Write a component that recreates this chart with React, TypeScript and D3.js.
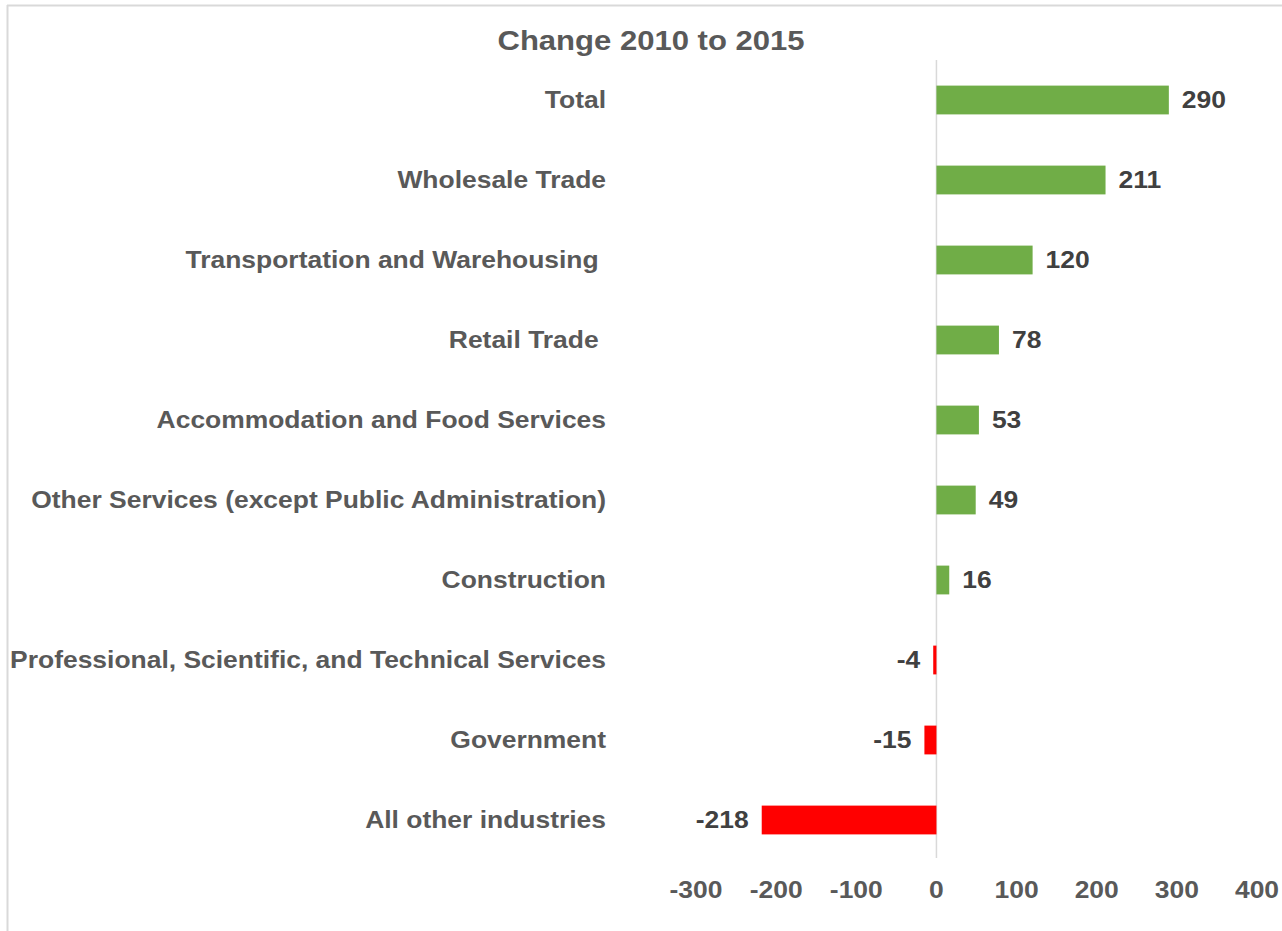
import React from "react";
import * as d3 from "d3";

const categories = [
  "Total",
  "Wholesale Trade",
  "Transportation and Warehousing ",
  "Retail Trade ",
  "Accommodation and Food Services",
  "Other Services (except Public Administration)",
  "Construction",
  "Professional, Scientific, and Technical Services",
  "Government",
  "All other industries",
];
const values = [290, 211, 120, 78, 53, 49, 16, -4, -15, -218];
const tickValues = [-300, -200, -100, 0, 100, 200, 300, 400];
const title = "Change 2010 to 2015";

const W = 1282;
const H = 931;
const FONT = "'Liberation Sans', Arial, sans-serif";
const TEXT = "#595959";
const SX = 1.15;

function T({ x, y, anchor, size, fill, children }: any) {
  return (
    <text
      transform={`translate(${x},${y}) scale(${SX},1)`}
      dy="0.35em"
      textAnchor={anchor}
      fontSize={size}
      fontWeight="bold"
      fill={fill}
      style={{ whiteSpace: "pre" }}
    >
      {children}
    </text>
  );
}

export default function App() {
  const x = d3.scaleLinear().domain([-300, 400]).range([696, 1257]);
  const y = d3.scaleBand<string>().domain(categories).range([60, 860]).paddingInner(0.64).paddingOuter(0.32);
  const bh = y.bandwidth();

  return (
    <svg width={W} height={H} style={{ position: "absolute", left: 0, top: 0, background: "#fff" }} fontFamily={FONT}>
      <rect x={0} y={0} width={W} height={H} fill="#fff" />
      <line x1={7} y1={5.5} x2={W + 5} y2={5.5} stroke="#d9d9d9" strokeWidth={2} />
      <line x1={7.5} y1={5} x2={7.5} y2={H + 5} stroke="#d9d9d9" strokeWidth={2} />

      <T x={651} y={41} anchor="middle" size={27} fill={TEXT}>
        {title}
      </T>

      <line x1={x(0)} x2={x(0)} y1={60} y2={858} stroke="#d9d9d9" strokeWidth={1.5} />

      {categories.map((c, i) => {
        const v = values[i];
        const yc = (y(c) as number) + bh / 2;
        const x0 = x(Math.min(0, v));
        const x1 = x(Math.max(0, v));
        return (
          <g key={c}>
            <T x={606} y={yc} anchor="end" size={23} fill={TEXT}>
              {c}
            </T>
            <rect x={x0} y={y(c)} width={x1 - x0} height={bh} fill={v >= 0 ? "#70AD47" : "#FF0000"} />
            <T x={v >= 0 ? x1 + 13 : x0 - 13} y={yc} anchor={v >= 0 ? "start" : "end"} size={23} fill="#404040">
              {v}
            </T>
          </g>
        );
      })}

      {tickValues.map((t) => (
        <T key={t} x={x(t)} y={890} anchor="middle" size={23} fill={TEXT}>
          {t}
        </T>
      ))}
    </svg>
  );
}
